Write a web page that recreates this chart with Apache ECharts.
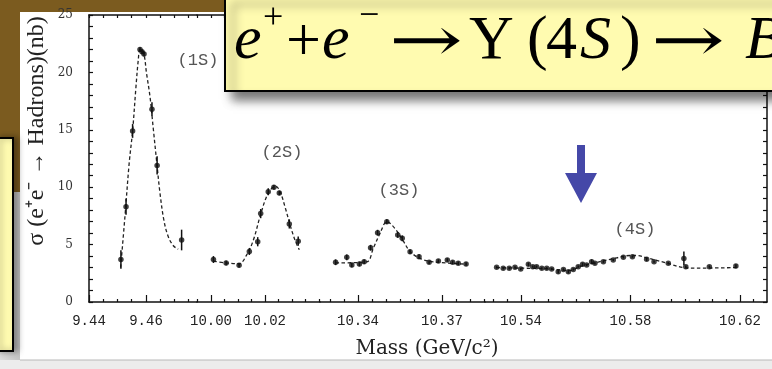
<!DOCTYPE html>
<html><head><meta charset="utf-8">
<script src="https://cdn.jsdelivr.net/npm/echarts@6/dist/echarts.min.js"></script>
<style>html,body{margin:0;padding:0;background:#fff}#c{width:772px;height:369px}</style>
</head><body><div id="c"></div>
<script>
// ---- tick labels ----
const majorTicks = [9.44, 9.46, 10.00, 10.02, 10.34, 10.37, 10.54, 10.58, 10.62];
const yLabelTicks = [0, 5, 10, 15, 20, 25];
const peakLabels = ['(1S)', '(2S)', '(3S)', '(4S)'];

// ---- Upsilon(1S) ----
const s1Mass  = [9.4512, 9.4530, 9.4553, 9.4579, 9.4586, 9.4593, 9.4621, 9.4639, 9.4725];
const s1Sigma = [3.7, 8.3, 14.9, 22.0, 21.8, 21.6, 16.8, 11.9, 5.4];
const s1Err   = [0.8, 0.7, 0.6, 0.2, 0.2, 0.2, 0.6, 0.8, 0.9];
const f1Mass  = [9.4511, 9.4526, 9.4541, 9.4553, 9.4565, 9.4573, 9.4579, 9.4591, 9.4602, 9.4614, 9.4626, 9.4638, 9.4649, 9.4663, 9.4678, 9.4696, 9.4713];
const f1Sigma = [3.0, 7.4, 12.1, 14.9, 18.8, 21.1, 22.0, 21.8, 19.9, 17.9, 15.0, 12.1, 9.5, 7.1, 5.7, 4.9, 4.6];

// ---- Upsilon(2S) ----
const s2Mass  = [10.0009, 10.0056, 10.0104, 10.0142, 10.0173, 10.0184, 10.0212, 10.0233, 10.0253, 10.0290, 10.0323];
const s2Sigma = [3.7, 3.4, 3.2, 4.4, 5.25, 7.7, 9.6, 10.0, 9.5, 6.8, 5.3];
const s2Err   = [0.3, 0.2, 0.2, 0.3, 0.4, 0.4, 0.3, 0.2, 0.2, 0.4, 0.4];
const f2Mass  = [10.0009, 10.0058, 10.0104, 10.0132, 10.0157, 10.0181, 10.0206, 10.0225, 10.0241, 10.0256, 10.0274, 10.0293, 10.0311, 10.0327];
const f2Sigma = [3.55, 3.4, 3.33, 4.1, 5.4, 7.4, 9.2, 9.9, 10.05, 9.6, 8.3, 6.7, 5.4, 4.55];

// ---- Upsilon(3S) ----
const s3Mass  = [10.3320, 10.3360, 10.3378, 10.3405, 10.3422, 10.3445, 10.3470, 10.3503, 10.3542, 10.3558, 10.3586, 10.3618, 10.3654, 10.3687, 10.3719, 10.3738, 10.3758, 10.3786];
const s3Sigma = [3.46, 3.89, 3.22, 3.31, 3.51, 4.73, 6.04, 7.0, 5.84, 5.55, 4.38, 3.95, 3.46, 3.57, 3.66, 3.46, 3.37, 3.31];
const s3Err   = [0.25, 0.25, 0.2, 0.2, 0.2, 0.25, 0.25, 0.2, 0.25, 0.25, 0.2, 0.2, 0.15, 0.15, 0.15, 0.15, 0.15, 0.15];
const f3Mass  = [10.3320, 10.3431, 10.3455, 10.3479, 10.3503, 10.3532, 10.3562, 10.3586, 10.3621, 10.3669, 10.3788];
const f3Sigma = [3.4, 3.5, 4.7, 6.0, 7.0, 6.4, 5.3, 4.4, 3.8, 3.5, 3.3];

// ---- Upsilon(4S) ----
const s4Mass  = [10.5311, 10.5335, 10.5357, 10.5378, 10.5399, 10.5427, 10.5443, 10.5457, 10.5476, 10.5494, 10.5512, 10.5536, 10.5555, 10.5573, 10.5591, 10.5609, 10.5625, 10.5640, 10.5658, 10.5670, 10.5701, 10.5737, 10.5774, 10.5807, 10.5859, 10.5886, 10.5938, 10.5995, 10.6002, 10.6088, 10.6185];
const s4Sigma = [3.02, 2.93, 2.93, 3.02, 2.87, 3.28, 3.08, 3.08, 2.93, 2.93, 2.87, 2.64, 2.84, 2.64, 2.84, 3.08, 3.28, 3.22, 3.51, 3.37, 3.51, 3.66, 3.89, 3.95, 3.72, 3.51, 3.37, 3.8, 3.08, 3.08, 3.14];
const s4Err   = [0.1, 0.1, 0.1, 0.1, 0.1, 0.15, 0.1, 0.1, 0.1, 0.1, 0.1, 0.15, 0.1, 0.15, 0.1, 0.1, 0.15, 0.1, 0.2, 0.1, 0.1, 0.1, 0.1, 0.1, 0.15, 0.1, 0.1, 0.6, 0.1, 0.1, 0.15];
const f4Mass  = [10.5311, 10.5396, 10.5494, 10.5579, 10.5616, 10.5677, 10.5750, 10.5798, 10.5823, 10.5859, 10.5932, 10.5993, 10.6042, 10.6188];
const f4Sigma = [3.0, 2.95, 2.9, 2.75, 3.1, 3.45, 3.85, 4.05, 4.05, 3.85, 3.4, 3.0, 2.95, 3.0];

// axis windows of the four panels of the broken mass axis
const segRange = [[9.44, 9.4779], [9.99481, 10.04037], [10.32643, 10.38536], [10.52685, 10.62986]];

// ---------------------------------------------------------------
const gridPix = [[89, 197], [197, 320], [320, 485], [485, 767]];
const TOP = 15, BOTTOM = 302;
const AX = '#111';
const tickFont = { fontFamily: 'Liberation Mono', fontSize: 14, color: '#222' };

function stepTicks(lo, hi, step) {
  const out = [];
  for (let k = Math.ceil(lo / step - 1e-9); k * step <= hi + 1e-9; k++) out.push(+(k * step).toFixed(3));
  return out;
}

const grids = [], xAxes = [], yAxes = [], series = [];
const sets = [
  [s1Mass, s1Sigma, s1Err, f1Mass, f1Sigma],
  [s2Mass, s2Sigma, s2Err, f2Mass, f2Sigma],
  [s3Mass, s3Sigma, s3Err, f3Mass, f3Sigma],
  [s4Mass, s4Sigma, s4Err, f4Mass, f4Sigma]
];

for (let i = 0; i < 4; i++) {
  const [lo, hi] = segRange[i];
  const majors = majorTicks.filter(v => v >= lo - 1e-9 && v <= hi + 1e-9);
  const all = stepTicks(lo, hi, 0.005);
  const minors = all.filter(v => !majors.some(m => Math.abs(m - v) < 1e-6));
  grids.push({ left: gridPix[i][0], width: gridPix[i][1] - gridPix[i][0], top: TOP, height: BOTTOM - TOP });
  xAxes.push({
    gridIndex: i, type: 'value', min: lo, max: hi, position: 'bottom',
    axisLine: { show: true, lineStyle: { color: AX, width: 1.5 } },
    axisTick: { show: true, inside: true, length: 7, customValues: majors, lineStyle: { color: AX, width: 1.2 } },
    axisLabel: { show: true, customValues: majors, margin: 12, formatter: v => v.toFixed(2), ...tickFont },
    splitLine: { show: false }
  });
  xAxes.push({
    gridIndex: i, type: 'value', min: lo, max: hi, position: 'bottom',
    axisLine: { show: false },
    axisTick: { show: true, inside: true, length: 3, customValues: minors, lineStyle: { color: AX, width: 1.2 } },
    axisLabel: { show: false }, splitLine: { show: false }
  });
  xAxes.push({
    gridIndex: i, type: 'value', min: lo, max: hi, position: 'top',
    axisLine: { show: true, lineStyle: { color: AX, width: 1.5 } },
    axisTick: { show: true, inside: true, length: 3, customValues: all, lineStyle: { color: AX, width: 1.2 } },
    axisLabel: { show: false }, splitLine: { show: false }
  });
  const yBase = { gridIndex: i, type: 'value', min: 0, max: 25, interval: 1, splitLine: { show: false } };
  if (i === 0) {
    yAxes.push({ ...yBase, position: 'left',
      axisLine: { show: true, lineStyle: { color: AX, width: 1.5 } },
      axisTick: { show: true, inside: true, length: 4, lineStyle: { color: AX, width: 1.2 } },
      axisLabel: { show: true, margin: 16, fontFamily: 'DejaVu Serif', fontSize: 12, color: '#333',
        formatter: v => (yLabelTicks.indexOf(v) >= 0 ? String(v) : '') } });
  } else if (i === 3) {
    yAxes.push({ ...yBase, position: 'right',
      axisLine: { show: true, lineStyle: { color: AX, width: 1.5 } },
      axisTick: { show: true, inside: true, length: 4, lineStyle: { color: AX, width: 1.2 } },
      axisLabel: { show: false } });
  } else {
    yAxes.push({ ...yBase, show: false });
  }
  const [m, s, e, fm, fs] = sets[i];
  series.push({
    type: 'line', xAxisIndex: 3 * i, yAxisIndex: i, data: fm.map((x, k) => [x, fs[k]]),
    showSymbol: false, smooth: 0.35, silent: true, z: 2,
    lineStyle: { color: '#222', width: 1.3, type: [3.5, 2.5] }
  });
  series.push({
    type: 'custom', xAxisIndex: 3 * i, yAxisIndex: i, silent: true, z: 3,
    encode: { x: 0, y: [1, 2] },
    data: m.map((x, k) => [x, s[k] - e[k], s[k] + e[k]]),
    renderItem: (params, api) => {
      const a = api.coord([api.value(0), api.value(1)]);
      const b = api.coord([api.value(0), api.value(2)]);
      return { type: 'line', shape: { x1: a[0], y1: a[1], x2: b[0], y2: b[1] }, style: { stroke: '#111', lineWidth: 1.5 } };
    }
  });
  series.push({
    type: 'scatter', xAxisIndex: 3 * i, yAxisIndex: i, data: m.map((x, k) => [x, s[k]]),
    symbol: 'circle', symbolSize: 5.5, itemStyle: { color: '#111' }, silent: true, z: 4
  });
}

const serif = '"Liberation Serif"';
function T(txt, x, y, size, italic, family, sx) {
  return { type: 'text', z: 110, x: x, y: y, scaleX: sx || 1,
    style: { text: txt, x: 0, y: 0,
      font: (italic ? 'italic ' : '') + size + 'px ' + (family || serif), fill: '#000',
      textAlign: 'left', textVerticalAlign: 'middle' } };
}

const graphic = [
  // slide background pieces
  { type: 'rect', z: -5, shape: { x: 0, y: 0, width: 772, height: 12 }, style: { fill: '#7b5b1f' } },
  { type: 'rect', z: -5, shape: { x: 0, y: 0, width: 20, height: 192 }, style: { fill: '#7b5b1f' } },
  { type: 'rect', z: -5, shape: { x: 0, y: 192, width: 20, height: 177 },
    style: { fill: new echarts.graphic.LinearGradient(0, 0, 1, 0, [{ offset: 0, color: '#dcdcdc' }, { offset: 1, color: '#c4c4c4' }]) } },
  { type: 'rect', z: -5, shape: { x: 0, y: 360, width: 772, height: 9 }, style: { fill: '#ececec' } },
  { type: 'line', z: -4, shape: { x1: 20, y1: 360, x2: 772, y2: 360 }, style: { stroke: '#b8b8b8', lineWidth: 1 } },
  // left yellow box
  { type: 'rect', z: 100, shape: { x: -4, y: 138, width: 17, height: 213 },
    style: { fill: '#fffbb0', stroke: '#000', lineWidth: 2, shadowBlur: 6, shadowOffsetX: 4, shadowColor: 'rgba(0,0,0,0.35)' } },
  // title box
  { type: 'rect', z: 100, shape: { x: 225, y: -4, width: 560, height: 95 },
    style: { fill: '#fffbb0', stroke: '#000', lineWidth: 2, shadowBlur: 10, shadowOffsetX: 8, shadowOffsetY: 8, shadowColor: 'rgba(0,0,0,0.55)' } },
  // formula  e+ + e- -> Upsilon(4S) -> B
  T('e', 234, 42, 62, true),
  T('+', 263, 19, 36),
  T('+', 286, 44, 62),
  T('e', 322, 42, 62, true),
  T('\u2212', 359, 17, 36),
  T('\u2192', 389, 45, 62, false, '"DejaVu Serif"', 1.42),
  T('\u03A5', 469, 42, 62),
  T('(', 527, 42, 62),
  T('4', 546, 42, 62),
  T('S', 580, 42, 62, true),
  T(')', 620, 42, 62),
  T('\u2192', 651, 45, 62, false, '"DejaVu Serif"', 1.42),
  T('B', 745, 42, 62, true),
  // axis titles
  { type: 'text', z: 10, x: 37, y: 131, rotation: Math.PI / 2,
    style: { text: '\u03C3 (e\u207Ae\u207B \u2192 Hadrons)(nb)', font: '24px ' + serif, fill: '#222', textAlign: 'center', textVerticalAlign: 'middle' } },
  { type: 'text', z: 10, x: 427, y: 349,
    style: { text: 'Mass (GeV/c\u00B2)', font: '20px "DejaVu Serif"', fill: '#222', textAlign: 'center', textVerticalAlign: 'middle' } },
  // resonance labels
  { type: 'text', z: 10, x: 198, y: 60, style: { text: peakLabels[0], font: '17px "Liberation Mono"', fill: '#555', textAlign: 'center', textVerticalAlign: 'middle' } },
  { type: 'text', z: 10, x: 282, y: 152, style: { text: peakLabels[1], font: '17px "Liberation Mono"', fill: '#555', textAlign: 'center', textVerticalAlign: 'middle' } },
  { type: 'text', z: 10, x: 399, y: 190, style: { text: peakLabels[2], font: '17px "Liberation Mono"', fill: '#555', textAlign: 'center', textVerticalAlign: 'middle' } },
  { type: 'text', z: 10, x: 635, y: 229, style: { text: peakLabels[3], font: '17px "Liberation Mono"', fill: '#555', textAlign: 'center', textVerticalAlign: 'middle' } },
  // blue arrow
  { type: 'rect', z: 10, shape: { x: 577, y: 145, width: 8, height: 30 }, style: { fill: '#4548a8' } },
  { type: 'polygon', z: 10, shape: { points: [[565, 173], [597, 173], [581, 203]] }, style: { fill: '#4548a8' } }
];

const chart = echarts.init(document.getElementById('c'), null, { renderer: 'canvas' });
chart.setOption({
  backgroundColor: '#ffffff',
  animation: false,
  grid: grids, xAxis: xAxes, yAxis: yAxes, series: series, graphic: graphic
});
</script>
</body></html>
